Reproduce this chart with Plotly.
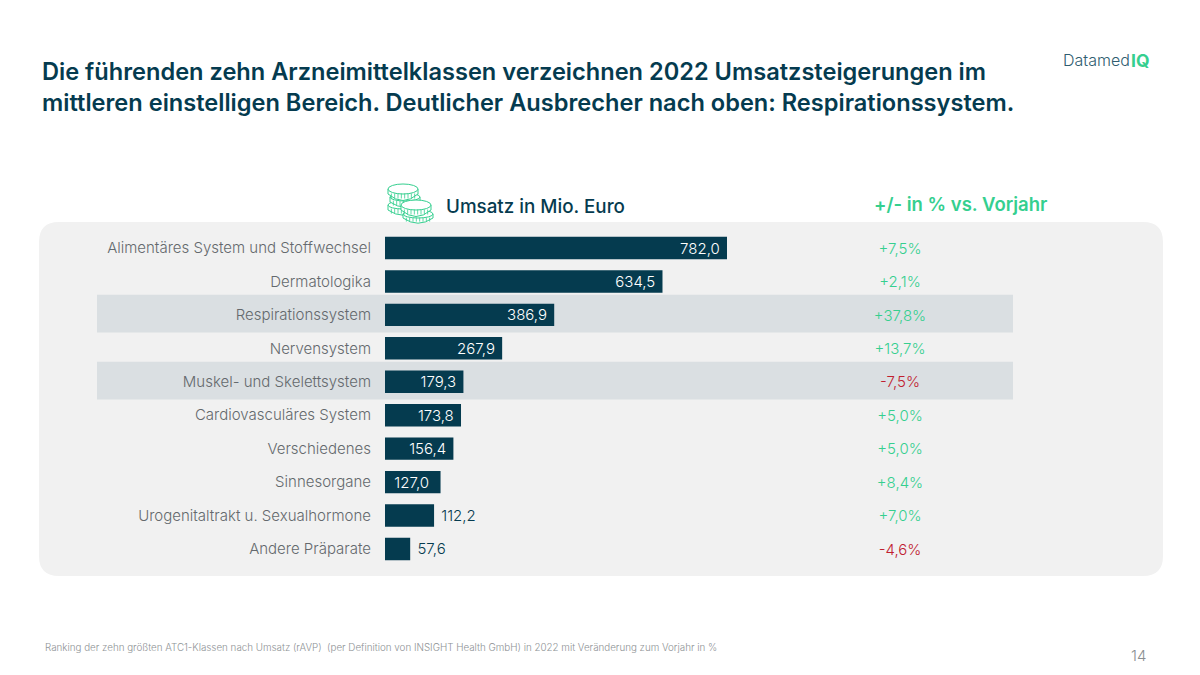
import plotly.graph_objects as go

W, H = 1200, 675
FONT = "Inter"
DARK = "#053B4F"
GREEN = "#35CF8F"
RED = "#C0202F"
GREY = "#64696D"

categories = ["Alimentäres System und Stoffwechsel", "Dermatologika", "Respirationssystem",
              "Nervensystem", "Muskel- und Skelettsystem", "Cardiovasculäres System",
              "Verschiedenes", "Sinnesorgane", "Urogenitaltrakt u. Sexualhormone", "Andere Präparate"]
umsatz = [782.0, 634.5, 386.9, 267.9, 179.3, 173.8, 156.4, 127.0, 112.2, 57.6]
umsatz_labels = ["782,0", "634,5", "386,9", "267,9", "179,3", "173,8", "156,4", "127,0", "112,2", "57,6"]
change_labels = ["+7,5%", "+2,1%", "+37,8%", "+13,7%", "-7,5%", "+5,0%", "+5,0%", "+8,4%", "+7,0%", "-4,6%"]
change_values = [7.5, 2.1, 37.8, 13.7, -7.5, 5.0, 5.0, 8.4, 7.0, -4.6]
highlighted = ["Respirationssystem", "Muskel- und Skelettsystem"]
change_column = ["+/- in % vs. Vorjahr"]

TITLE = ("Die führenden zehn Arzneimittelklassen verzeichnen 2022 Umsatzsteigerungen im<br>"
         "mittleren einstelligen Bereich. Deutlicher Ausbrecher nach oben: Respirationssystem.")
FOOT = ("Ranking der zehn größten ATC1-Klassen nach Umsatz (rAVP)  (per Definition von INSIGHT Health GmbH) "
        "in 2022 mit Veränderung zum Vorjahr in %")

px = lambda v: v / W
py = lambda v: 1 - v / H

NB = "\u00a0"
bar_text, bar_pos, bar_col = [], [], []
for v, t in zip(umsatz, umsatz_labels):
    if v > 120:
        pad = 1 if v > 130 else 2
        bar_text.append(t + NB * pad)
        bar_pos.append("inside")
        bar_col.append("#FFFFFF")
    else:
        bar_text.append(NB + t)
        bar_pos.append("outside")
        bar_col.append(DARK)

fig = go.Figure()
fig.add_bar(x=umsatz, y=categories, orientation="h", marker_color=DARK, marker_line_width=0,
            text=bar_text, textposition=bar_pos, insidetextanchor="end", cliponaxis=False,
            textfont=dict(family=FONT, size=15, color=bar_col, weight=300), textangle=0,
            constraintext="none", hoverinfo="skip", showlegend=False)
fig.add_scatter(x=change_column * len(categories), y=categories, mode="text", text=change_labels,
                textfont=dict(family=FONT, size=15, weight=300,
                              color=[GREEN if c > 0 else RED for c in change_values]),
                xaxis="x2", yaxis="y2", hoverinfo="skip", showlegend=False)

shapes = []
x0, x1, y0, y1, r = 39, 1163, 222, 576, 20
shapes.append(dict(type="path", xref="paper", yref="paper", layer="below", line_width=0, fillcolor="#F1F1F1",
                   path=f"M{px(x0+r)},{py(y0)} L{px(x1-r)},{py(y0)} Q{px(x1)},{py(y0)} {px(x1)},{py(y0+r)} "
                        f"L{px(x1)},{py(y1-r)} Q{px(x1)},{py(y1)} {px(x1-r)},{py(y1)} "
                        f"L{px(x0+r)},{py(y1)} Q{px(x0)},{py(y1)} {px(x0)},{py(y1-r)} "
                        f"L{px(x0)},{py(y0+r)} Q{px(x0)},{py(y0)} {px(x0+r)},{py(y0)} Z"))
for name in highlighted:
    i = categories.index(name)
    shapes.append(dict(type="rect", xref="paper", yref="y", layer="below", line_width=0, fillcolor="#DADFE2",
                       x0=px(97), x1=px(1013), y0=i - 0.6, y1=i + 0.53))

def coin(cx, cy, rx, ry, h):
    l, rr = cx - rx, cx + rx
    out = [dict(type="path", xref="paper", yref="paper", fillcolor="#FFFFFF", line=dict(color=GREEN, width=1),
                path=f"M{px(l)},{py(cy)} L{px(l)},{py(cy+h)} Q{px(cx)},{py(cy+h+2.6*ry)} {px(rr)},{py(cy+h)} "
                     f"L{px(rr)},{py(cy)} Z"),
           dict(type="circle", xref="paper", yref="paper", fillcolor="#FFFFFF", line=dict(color=GREEN, width=1),
                x0=px(l), x1=px(rr), y0=py(cy - ry), y1=py(cy + ry))]
    for k in range(1, 9):
        xx = l + k * (2 * rx) / 9
        out.append(dict(type="line", xref="paper", yref="paper", line=dict(color=GREEN, width=0.8),
                        x0=px(xx), x1=px(xx), y0=py(cy + ry * 0.9), y1=py(cy + h + ry * 0.9)))
    return out

for c in [(403, 205, 15, 4, 5), (405, 197, 15, 4, 5), (403, 189, 15, 5, 5),
          (418, 214, 15, 4, 4), (416, 205, 15, 5, 5)]:
    shapes += coin(*c)

def note(x, y, text, size, color, anchor="left", weight=None, yanchor="middle"):
    return dict(xref="paper", yref="paper", x=px(x), y=py(y), text=text, showarrow=False, xanchor=anchor,
                yanchor=yanchor, align="left", font=dict(family=FONT, size=size, color=color, weight=weight))

annotations = [
    note(40, 87, TITLE, 23.6, DARK, weight=600),
    note(444, 206, "Umsatz in Mio. Euro", 18.8, DARK, weight=500),
    note(960, 204, change_column[0], 18.5, GREEN, anchor="center", weight=600),
    note(43, 647, FOOT, 9.8, "#8E9295", weight=300),
    note(1138, 655, "14", 15, "#8A8F92", anchor="center", weight=300),
    note(1132, 60, "Datamed", 16, "#2F5D70", anchor="right", weight=300),
    note(1129, 60, "<b>IQ</b>", 17.5, GREEN),
]

row = 33.44
ydom = [py(248 + 9.5 * row), py(248 - 0.5 * row)]
fig.update_layout(
    width=W, height=H, margin=dict(l=0, r=0, t=0, b=0), paper_bgcolor="#FFFFFF", plot_bgcolor="rgba(0,0,0,0)",
    bargap=0.33, shapes=shapes, annotations=annotations, showlegend=False,
    xaxis=dict(domain=[px(385), px(785)], range=[0, 400 / (342 / 782)], visible=False, fixedrange=True),
    xaxis2=dict(domain=[px(800), px(1000)], type="category", visible=False, anchor="y2", fixedrange=True),
    yaxis=dict(domain=ydom, type="category",
               categoryorder="array", categoryarray=categories, autorange=False, range=[9.5, -0.5],
               showgrid=False, zeroline=False, showline=False, ticks="", ticklabelstandoff=13,
               tickfont=dict(family=FONT, size=15, color=GREY, weight=300), fixedrange=True),
    yaxis2=dict(domain=[ydom[0] - 2 / H, ydom[1] - 2 / H], type="category", anchor="x2", visible=False,
                categoryorder="array", categoryarray=categories, autorange=False, range=[9.5, -0.5],
                fixedrange=True),
)
fig.write_html("out.html", post_script="document.body.style.margin='0';", config=dict(displayModeBar=False))
